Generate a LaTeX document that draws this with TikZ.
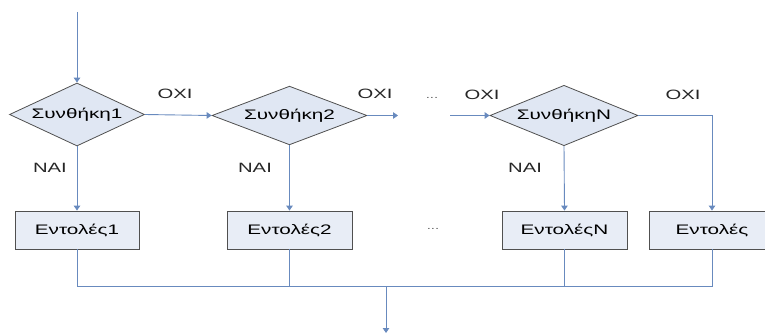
\documentclass[tikz,border=0pt]{standalone}
\usepackage{fontspec}
\setmainfont{Liberation Sans}[FakeStretch=1.5]
\usetikzlibrary{shapes.geometric,arrows.meta}
\definecolor{lineblue}{RGB}{104,138,190}
\definecolor{dfill}{RGB}{224,231,243}
\definecolor{bfill}{RGB}{232,237,246}
\definecolor{edge}{RGB}{80,80,80}
\tikzset{
  cond/.style={diamond, draw=edge, fill=dfill, line width=0.8pt, inner sep=0pt, aspect=2, font=\fontsize{13.8}{15}\selectfont},
  cmdbox/.style={rectangle, draw=edge, fill=bfill, line width=0.8pt, inner sep=0pt, minimum height=38pt, font=\fontsize{13.8}{15}\selectfont},
  conn/.style={draw=lineblue, line width=0.9pt},
  arr/.style={conn, -{Triangle[width=6.5pt,length=5pt]}},
  lbl/.style={inner sep=0pt, font=\fontsize{13.5}{15}\selectfont, text=black!85},
  dots/.style={inner sep=0pt, font=\fontsize{10}{11}\selectfont, text=black!60}
}
\begin{document}
\begin{tikzpicture}[x=1pt,y=-1pt]
\useasboundingbox (0,0) rectangle (765,334);
% decisions
\node[cond, minimum width=135pt, minimum height=63pt] (d1) at (77,114.5) {Συνθήκη1};
\node[cond, minimum width=155pt, minimum height=57pt] (d2) at (289.5,115.5) {Συνθήκη2};
\node[cond, minimum width=148pt, minimum height=57pt] (dn) at (564,115.5) {ΣυνθήκηN};
% boxes
\node[cmdbox, minimum width=124pt] (b1) at (77,230) {Εντολές1};
\node[cmdbox, minimum width=125pt] (b2) at (289.5,230) {Εντολές2};
\node[cmdbox, minimum width=125pt] (bn) at (564.5,230) {ΕντολέςN};
\node[cmdbox, minimum width=126pt] (be) at (712,230) {\makebox[0pt]{Εντολές}};
% coordinates
\coordinate (start) at (77,12);
\coordinate (o2) at (398,115.5);
\coordinate (in) at (450,115.5);
\coordinate (corner) at (712,115.5);
\coordinate (j1) at (77,286);
\coordinate (je) at (712,286);
\coordinate (jm) at (386,286);
\coordinate (endp) at (386,333);
% connectors
\draw[arr] (start) -- (d1.north);
\draw[arr] (d1.east) -- (d2.west);
\draw[arr] (d2.east) -- (o2);
\draw[arr] (in) -- (dn.west);
\draw[conn] (dn.east) -- (corner);
\draw[arr] (corner) -- (be.north);
\draw[arr] (d1.south) -- (b1.north);
\draw[arr] (d2.south) -- (b2.north);
\draw[arr] (dn.south) -- (bn.north);
\draw[conn] (b1.south) -- (j1) -- (je) -- (be.south);
\draw[conn] (b2.south) -- (b2.south |- j1);
\draw[conn] (bn.south) -- (bn.south |- j1);
\draw[arr] (jm) -- (endp);
% labels
\node[lbl] (l1) at (175,93.5) {OXI};
\node[lbl] (l2) at (375,93.5) {OXI};
\node[lbl] (l3) at (482,95) {OXI};
\node[lbl] (l4) at (683,95) {OXI};
\node[lbl] (n1) at (50,168) {NAI};
\node[lbl] (n2) at (255,168) {NAI};
\node[lbl] (n3) at (525,168) {NAI};
\node[dots] (e1) at (432,98) {...};
\node[dots] (e2) at (433,229) {...};
\end{tikzpicture}
\end{document}
